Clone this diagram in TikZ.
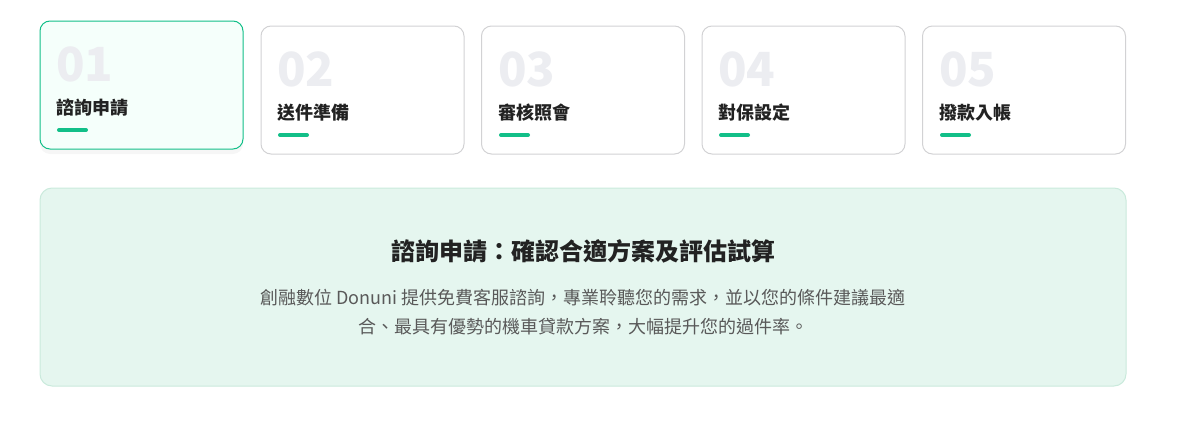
\documentclass[tikz,border=0pt]{standalone}
\usepackage{fontspec}
\setmainfont{Noto Sans CJK TC}
\usetikzlibrary{shadows}
\definecolor{mint}{HTML}{12BF88}
\definecolor{cardline}{HTML}{D2D2D4}
\definecolor{numgray}{HTML}{ECEDF1}
\definecolor{inkdark}{HTML}{222222}
\definecolor{panelfill}{HTML}{E5F6EF}
\definecolor{panelline}{HTML}{CAEADC}
\definecolor{activefill}{HTML}{F5FFFB}
\definecolor{parains}{HTML}{595959}
\tikzset{
    card/.style={draw=cardline,line width=1pt,fill=white,rounded corners=10pt,
        minimum width=203pt,minimum height=128pt,inner sep=0pt},
    active/.style={draw=mint,fill=activefill,
        drop shadow={opacity=0.07,shadow xshift=0pt,shadow yshift=-5pt}},
    stepnum/.style={anchor=base west,inner sep=0pt,text=numgray,font=\fontsize{47pt}{48pt}\selectfont\bfseries},
    steplabel/.style={anchor=base west,inner sep=0pt,text=inkdark,font=\fontsize{18pt}{20pt}\selectfont\bfseries},
    bar/.style={line width=4pt,line cap=round,draw=mint},
    panel/.style={draw=panelline,line width=1pt,fill=panelfill,rounded corners=12pt,
        minimum width=1086pt,minimum height=198pt,inner sep=0pt},
    headline/.style={anchor=base,inner sep=0pt,text=inkdark,font=\fontsize{24pt}{26pt}\selectfont\bfseries},
    desc/.style={anchor=base,inner sep=0pt,text=parains,font=\fontsize{18pt}{20pt}\selectfont}
}

\begin{document}
\begin{tikzpicture}[x=1pt,y=-1pt]
    \useasboundingbox (0,0) rectangle (1179,426);

    % steps
    \node[card,active] (c1) at (141.5,85) {};
    \node[card] (c2) at (362.5,90) {};
    \node[card] (c3) at (583,90) {};
    \node[card] (c4) at (803.5,90) {};
    \node[card] (c5) at (1024,90) {};

    \node[stepnum] (n1) at (56,81) {01};
    \node[steplabel] (l1) at (56,114) {諮詢申請};
    \coordinate (b1) at (59,130);
    \draw[bar] (b1) -- ++(27,0);

    \node[stepnum] (n2) at (277,86) {02};
    \node[steplabel] (l2) at (277,119) {送件準備};
    \coordinate (b2) at (280,135);
    \draw[bar] (b2) -- ++(27,0);

    \node[stepnum] (n3) at (498,86) {03};
    \node[steplabel] (l3) at (498,119) {審核照會};
    \coordinate (b3) at (501,135);
    \draw[bar] (b3) -- ++(27,0);

    \node[stepnum] (n4) at (718,86) {04};
    \node[steplabel] (l4) at (718,119) {對保設定};
    \coordinate (b4) at (721,135);
    \draw[bar] (b4) -- ++(27,0);

    \node[stepnum] (n5) at (939,86) {05};
    \node[steplabel] (l5) at (939,119) {撥款入帳};
    \coordinate (b5) at (942,135);
    \draw[bar] (b5) -- ++(27,0);

    % detail
    \node[panel] (p) at (583,287) {};
    \node[headline] (t) at (583,260) {諮詢申請：確認合適方案及評估試算};
    \node[desc] (d1) at (583,304) {創融數位 Donuni 提供免費客服諮詢，專業聆聽您的需求，並以您的條件建議最適};
    \node[desc] (d2) at (583,333) {合、最具有優勢的機車貸款方案，大幅提升您的過件率。};
\end{tikzpicture}
\end{document}
